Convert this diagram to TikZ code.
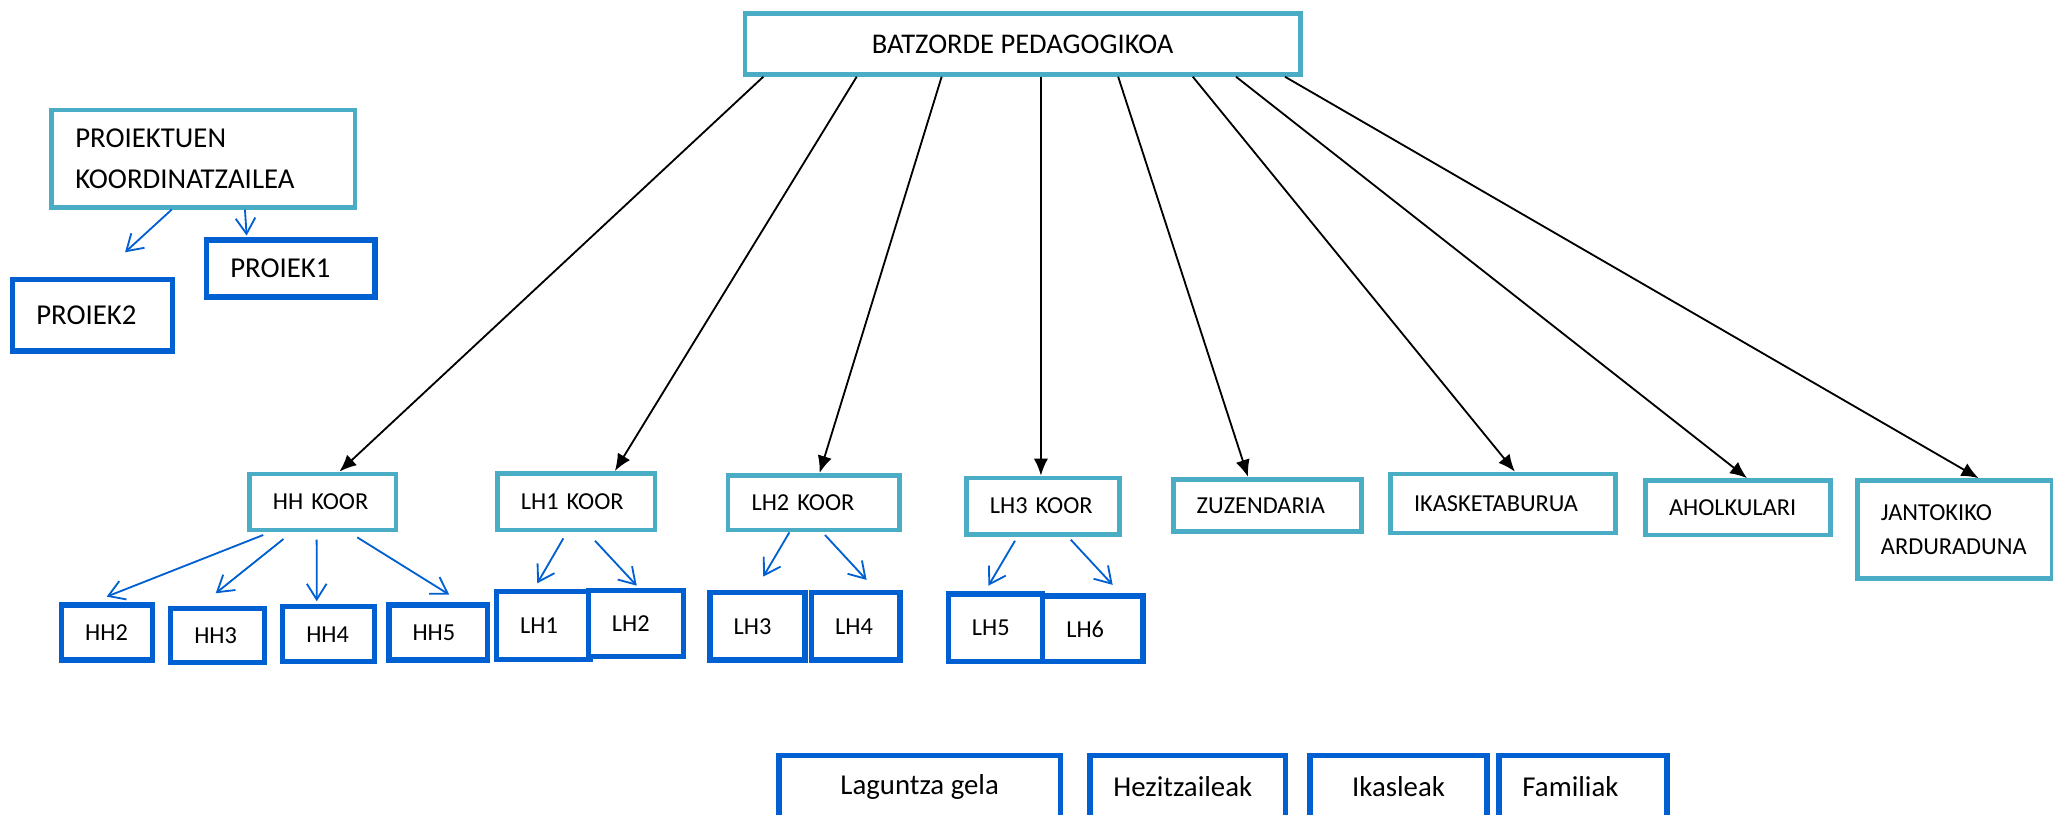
\documentclass[tikz,border=0pt]{standalone}
\usepackage{fontspec}
\setmainfont{Carlito}
\usepackage{tikz}
\usetikzlibrary{arrows,arrows.meta,positioning}

\begin{document}
\begin{tikzpicture}[x=0.5pt,y=-0.5pt]
\definecolor{cyanb}{RGB}{75,172,198}
\definecolor{blueb}{RGB}{0,96,210}
\tikzstyle{cbox}=[rectangle,draw=cyanb,line width=1.8pt,fill=white,inner xsep=9pt,inner ysep=0pt,align=left,font=\fontsize{9.3}{13}\selectfont]
\tikzstyle{bbox}=[rectangle,draw=blueb,line width=2.1pt,fill=white,inner xsep=9pt,inner ysep=0pt,align=left,font=\fontsize{9.3}{11}\selectfont]
\tikzstyle{link}=[->,>={Latex[length=6.5pt,width=5.5pt]},line width=0.7pt,black]
\tikzstyle{sublink}=[->,>={Straight Barb[length=6pt,width=7.5pt]},line width=0.7pt,blueb]

\useasboundingbox (0,0) rectangle (1568,622);

%%%%%%%%%%%%%%%%%%%%%%%%%%%%%%%%%%%%%%%%%%%%%%%%%%%%%%%%%%%%%%%%%%%%%%%%
%top
\node[cbox,align=center,minimum width=212pt,minimum height=23.3pt,font=\fontsize{10.9}{13}\selectfont] (batzorde) at (781,33.5) {BATZORDE PEDAGOGIKOA};

%projects
\node[cbox,text width=97.8pt,minimum height=37.15pt,font=\fontsize{11}{15.5}\selectfont] (proiektuen) at (155.3,121.15) {PROIEKTUEN\\KOORDINATZAILEA};
\node[bbox,text width=46.25pt,minimum height=21.85pt,font=\fontsize{11}{13}\selectfont] (proiek1) at (222.15,205.15) {PROIEK1};
\node[bbox,text width=43.1pt,minimum height=27.35pt,font=\fontsize{11}{13}\selectfont] (proiek2) at (70.8,240.65) {PROIEK2};

%%%%%%%%%%%%%%%%%%%%%%%%%%%%%%%%%%%%%%%%%%%%%%%%%%%%%%%%%%%%%%%%%%%%%%%%
%koor
\node[cbox,text width=38.05pt,minimum height=21.4pt] (hhkoor) at (246.45,383.4) {HH KOOR};
\node[cbox,text width=42.25pt,minimum height=21.65pt] (lh1koor) at (440.05,383.15) {LH1 KOOR};
\node[cbox,text width=47.5pt,minimum height=20.9pt] (lh2koor) at (621.5,383.9) {LH2 KOOR};
\node[cbox,text width=40.5pt,minimum height=21.5pt] (lh3koor) at (796.5,386.5) {LH3 KOOR};
%others
\node[cbox,text width=54pt,minimum height=20pt] (zuzendaria) at (968,386) {ZUZENDARIA};
\node[cbox,text width=68pt,minimum height=22.5pt] (ikasketaburua) at (1148,384.5) {IKASKETABURUA};
\node[cbox,text width=52.65pt,minimum height=20.85pt] (aholkulari) at (1327.35,387.85) {AHOLKULARI};
\node[cbox,text width=56.5pt,minimum height=37.3pt] (jantokiko) at (1493.1,404.3) {JANTOKIKO\\ARDURADUNA};

%%%%%%%%%%%%%%%%%%%%%%%%%%%%%%%%%%%%%%%%%%%%%%%%%%%%%%%%%%%%%%%%%%%%%%%%
%groups
%hh
\node[bbox,text width=16.75pt,minimum height=21.05pt] (hh2) at (81.85,483.05) {HH2};
\node[bbox,text width=17.75pt,minimum height=20.75pt] (hh3) at (166.15,485.35) {HH3};
\node[bbox,text width=17pt,minimum height=21pt] (hh4) at (250.9,484.4) {HH4};
\node[bbox,text width=19.55pt,minimum height=21pt] (hh5) at (334.65,483) {HH5};
%lh
\node[bbox,text width=17.65pt,minimum height=25.85pt] (lh1) at (414.95,477.75) {LH1};
\node[bbox,text width=18.3pt,minimum height=25.2pt] (lh2) at (485.6,476.3) {LH2};
\node[bbox,text width=18.25pt,minimum height=25.7pt] (lh3) at (578.55,478.4) {LH3};
\node[bbox,text width=15.75pt,minimum height=25.7pt] (lh4) at (653.65,478.4) {LH4};
\node[bbox,text width=18.05pt,minimum height=25.85pt] (lh5) at (760.35,479.55) {LH5};
\node[bbox,text width=20.2pt,minimum height=25.1pt] (lh6) at (834.6,480.3) {LH6};

%%%%%%%%%%%%%%%%%%%%%%%%%%%%%%%%%%%%%%%%%%%%%%%%%%%%%%%%%%%%%%%%%%%%%%%%
%bottom
\node[bbox,align=center,minimum width=107.6pt,minimum height=24pt,font=\fontsize{11}{13}\selectfont] (laguntza) at (702.4,601) {Laguntza gela};
\node[bbox,text width=56.65pt,minimum height=24pt,font=\fontsize{11}{13}\selectfont] (hezitzaileak) at (907.05,601) {Hezitzaileak};
\node[bbox,align=center,minimum width=67.65pt,minimum height=24pt,font=\fontsize{11}{13}\selectfont] (ikasleak) at (1068.15,601) {Ikasleak};
\node[bbox,text width=46.1pt,minimum height=24pt,font=\fontsize{11}{13}\selectfont] (familiak) at (1208.9,601) {Familiak};

%%%%%%%%%%%%%%%%%%%%%%%%%%%%%%%%%%%%%%%%%%%%%%%%%%%%%%%%%%%%%%
%ARROWS

% batzorde->koor
\draw[link] ([xshift=-99pt]batzorde.south) -- ([xshift=6.4pt]hhkoor.north);
\draw[link] ([xshift=-63.35pt]batzorde.south) -- ([xshift=14.8pt]lh1koor.north);
\draw[link] ([xshift=-30.9pt]batzorde.south) -- ([xshift=2.25pt]lh2koor.north);
\draw[link] ([xshift=7pt]batzorde.south) -- ([xshift=-0.75pt]lh3koor.north);
% batzorde->others
\draw[link] ([xshift=36.5pt]batzorde.south) -- ([xshift=-7.4pt]zuzendaria.north);
\draw[link] ([xshift=65pt]batzorde.south) -- ([xshift=4.5pt]ikasketaburua.north);
\draw[link] ([xshift=81.5pt]batzorde.south) -- ([xshift=3.5pt]aholkulari.north);
\draw[link] ([xshift=100.2pt]batzorde.south) -- ([xshift=9pt]jantokiko.north);

% proiektuen->proiek
\draw[sublink] ([xshift=-12.1pt]proiektuen.south) -- ([xshift=12.35pt,yshift=9.25pt]proiek2.north);
\draw[sublink] ([xshift=15.9pt]proiektuen.south) -- ([xshift=-16.9pt,yshift=0.65pt]proiek1.north);

% hhkoor->hh
\draw[sublink] ([xshift=-22.7pt,yshift=-1pt]hhkoor.south) -- ([xshift=-0.2pt,yshift=2.1pt]hh2.north);
\draw[sublink] ([xshift=-15pt,yshift=-2.55pt]hhkoor.south) -- ([xshift=-0.7pt,yshift=4.7pt]hh3.north);
\draw[sublink] ([xshift=-2.3pt,yshift=-2.8pt]hhkoor.south) -- ([xshift=-4.5pt,yshift=1.05pt]hh4.north);
\draw[sublink] ([xshift=13.2pt,yshift=-1.9pt]hhkoor.south) -- ([xshift=4.2pt,yshift=2.9pt]hh5.north);

% lhkoor->lh
\draw[sublink] ([xshift=-4.9pt,yshift=-2.3pt]lh1koor.south) -- ([xshift=-2.3pt,yshift=2.15pt]lh1.north);
\draw[sublink] ([xshift=7.2pt,yshift=-3.2pt]lh1koor.south) -- ([xshift=0.35pt,yshift=0.85pt]lh2.north);
\draw[sublink] ([xshift=-9.3pt]lh2koor.south) -- ([xshift=2.2pt,yshift=5.1pt]lh3.north);
\draw[sublink] ([xshift=4.3pt,yshift=-1pt]lh2koor.south) -- ([xshift=4.1pt,yshift=3.85pt]lh4.north);
\draw[sublink] ([xshift=-10.65pt,yshift=-1.6pt]lh3koor.south) -- ([xshift=-2.7pt,yshift=2.15pt]lh5.north);
\draw[sublink] ([xshift=10.65pt,yshift=-1.2pt]lh3koor.south) -- ([xshift=7.6pt,yshift=3.2pt]lh6.north);

\end{tikzpicture}
\end{document}
